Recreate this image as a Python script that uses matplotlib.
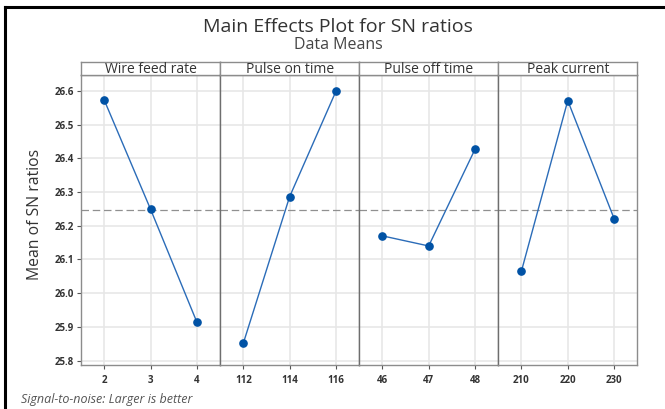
import matplotlib
matplotlib.use('Agg')
import matplotlib.pyplot as plt
from matplotlib.lines import Line2D

plt.rcParams['font.family'] = ['Open Sans', 'DejaVu Sans']

factors = ['Wire feed rate', 'Pulse on time', 'Pulse off time', 'Peak current']
levels = [[2, 3, 4], [112, 114, 116], [46, 47, 48], [210, 220, 230]]
sn_means = [
    [26.573, 26.249, 25.914],
    [25.851, 26.286, 26.599],
    [26.170, 26.140, 26.427],
    [26.065, 26.571, 26.221],
]
grand_mean = 26.246
yticks = [25.8, 25.9, 26.0, 26.1, 26.2, 26.3, 26.4, 26.5, 26.6]

W, H = 665, 409
fig = plt.figure(figsize=(W / 100, H / 100), dpi=100)
fig.patch.set_facecolor('white')

# pixel helpers
def fx(px):
    return px / W

def fy(py):
    return 1 - py / H

left0 = 81
pw = (637.3 - 81) / 4
top, bottom, strip_top = 75, 365, 62.3

line_col = '#2b6cb8'
mark_col = '#0052a5'
spine_col = '#8c8c8c'

for i in range(4):
    x0 = left0 + i * pw
    ax = fig.add_axes([fx(x0), fy(bottom), pw / W, (bottom - top) / H])
    x = [0, 1, 2]
    ax.plot(x, sn_means[i], color=line_col, lw=1.0, zorder=3)
    ax.plot(x, sn_means[i], 'o', color=mark_col, ms=5.2, zorder=4)
    ax.axhline(grand_mean, color='#909090', lw=0.9, ls=(0, (6, 3)), zorder=2)
    ax.set_xlim(-0.5, 2.5)
    ax.set_ylim(25.787, 26.647)
    ax.set_xticks(x)
    ax.set_xticklabels([str(v) for v in levels[i]])
    ax.set_yticks(yticks)
    ax.grid(True, color='#e6e6e6', lw=1.1, zorder=0)
    ax.set_axisbelow(True)
    for s in ax.spines.values():
        s.set_color(spine_col)
        s.set_linewidth(1.0)
    ax.tick_params(axis='x', length=3, width=0.8, color='#555555', labelsize=7,
                   labelcolor='#333333', pad=4)
    for lab in ax.get_xticklabels():
        lab.set_fontweight('bold')
    if i == 0:
        ax.tick_params(axis='y', length=3, width=0.8, color='#555555', labelsize=7,
                       labelcolor='#333333', pad=2)
        ax.set_yticklabels(['%.1f' % v for v in yticks])
        for lab in ax.get_yticklabels():
            lab.set_fontweight('bold')
    else:
        ax.tick_params(axis='y', length=0, labelleft=False)
        ax.spines['left'].set_color('#6e6e6e')

    sax = fig.add_axes([fx(x0), fy(top), pw / W, (top - strip_top) / H])
    sax.set_xticks([])
    sax.set_yticks([])
    for s in sax.spines.values():
        s.set_color(spine_col)
        s.set_linewidth(1.0)
    sax.text(0.5, 0.45, factors[i], ha='center', va='center', fontsize=10,
             color='#333333', transform=sax.transAxes)

fig.text(fx(338), fy(27), 'Main Effects Plot for SN ratios', ha='center', va='center',
         fontsize=14, color='#333333')
fig.text(fx(338), fy(45), 'Data Means', ha='center', va='center', fontsize=11.5,
         color='#444444')
fig.text(fx(35), fy(214), 'Mean of SN ratios', ha='center', va='center', rotation=90,
         fontsize=11.3, color='#333333')
fig.text(fx(21), fy(399), 'Signal-to-noise: Larger is better', ha='left', va='center',
         fontsize=9, style='italic', color='#555555')

# black frame on top and left edge
fig.add_artist(Line2D([fx(5), 1], [fy(7), fy(7)], color='black', lw=2.2))
fig.add_artist(Line2D([fx(5), fx(5)], [0, fy(7)], color='black', lw=2.2))

fig.savefig('out.png', dpi=100)
